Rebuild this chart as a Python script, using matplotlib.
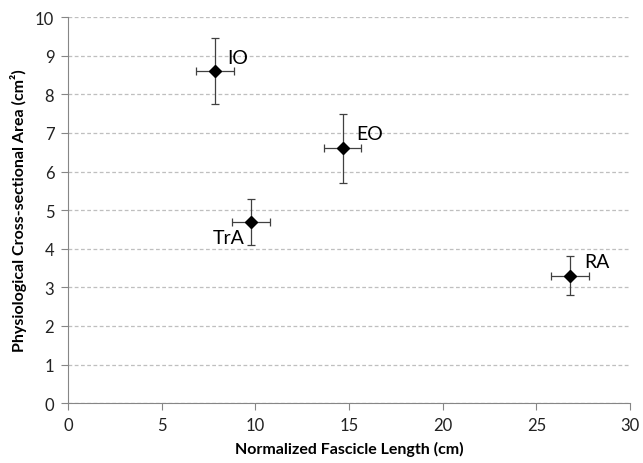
import numpy as np
import matplotlib
matplotlib.use('Agg')
import matplotlib.pyplot as plt

# datos
muscles = ['IO', 'EO', 'TrA', 'RA']
fascicle_len = [7.85, 14.65, 9.75, 26.8]
pcsa = [8.6, 6.6, 4.7, 3.3]
len_err = [1.0, 1.0, 1.0, 1.0]
pcsa_err = [0.85, 0.9, 0.6, 0.5]

# offsets de las etiquetas (pixeles)
label_offsets = {'IO': (12, 14, 'left'), 'EO': (14, 15, 'left'),
                 'TrA': (-6, -16, 'right'), 'RA': (14, 14, 'left')}

plt.rcParams['font.family'] = ['Lato', 'DejaVu Sans']

fig = plt.figure(figsize=(6.43, 4.64), dpi=100)
ax = fig.add_axes([0.106, 0.129, 0.874, 0.832])

ax.errorbar(fascicle_len, pcsa, xerr=len_err, yerr=pcsa_err, fmt='D',
            color='black', markersize=6, ecolor='#404040', elinewidth=0.9,
            capsize=3, capthick=0.9, zorder=3)

for name, x, y in zip(muscles, fascicle_len, pcsa):
    dx, dy, ha = label_offsets[name]
    ax.annotate(name, (x, y), xytext=(dx, dy), textcoords='offset pixels',
                ha=ha, va='center', fontsize=14)

ax.set_xlim(0, 30)
ax.set_ylim(0, 10)
ax.set_xticks(np.arange(0, 31, 5))
ax.set_yticks(np.arange(0, 11, 1))
ax.yaxis.grid(True, linestyle=(0, (3, 2)), color='#bfbfbf', linewidth=0.9)
ax.set_axisbelow(True)

for s in ['top', 'right']:
    ax.spines[s].set_visible(False)
for s in ['left', 'bottom']:
    ax.spines[s].set_color('#868686')
ax.tick_params(direction='out', length=5, color='#868686', labelsize=12,
               labelcolor='#222222', pad=5)

ax.set_xlabel('Normalized Fascicle Length (cm)', fontweight='bold', fontsize=11.5, labelpad=6)
ax.set_ylabel('Physiological Cross-sectional Area (cm²)', fontweight='bold', fontsize=11.5, labelpad=6)

plt.savefig('out.png', dpi=100)
